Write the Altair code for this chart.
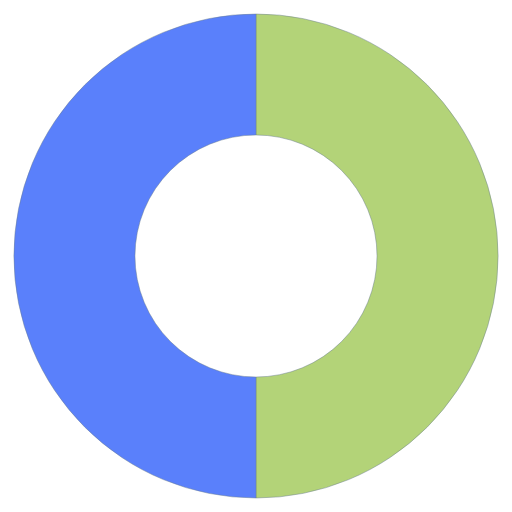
import altair as alt
import pandas as pd

categories = ["B", "A"]
values = [50, 50]
colors = ["#b3d378", "#5a80fb"]

df = pd.DataFrame({"category": categories, "value": values, "order": [0, 1]})

chart = alt.Chart(df).mark_arc(
    innerRadius=121, outerRadius=242, stroke="#6b7f8f", strokeWidth=0.8, strokeOpacity=0.6
).encode(
    theta=alt.Theta("value:Q", stack=True),
    order=alt.Order("order:Q"),
    color=alt.Color("category:N", scale=alt.Scale(domain=categories, range=colors), legend=None),
).properties(
    width=496, height=496, padding=0
).configure_view(stroke=None)

chart.save("out.html", embed_options={"renderer": "svg", "actions": False})
